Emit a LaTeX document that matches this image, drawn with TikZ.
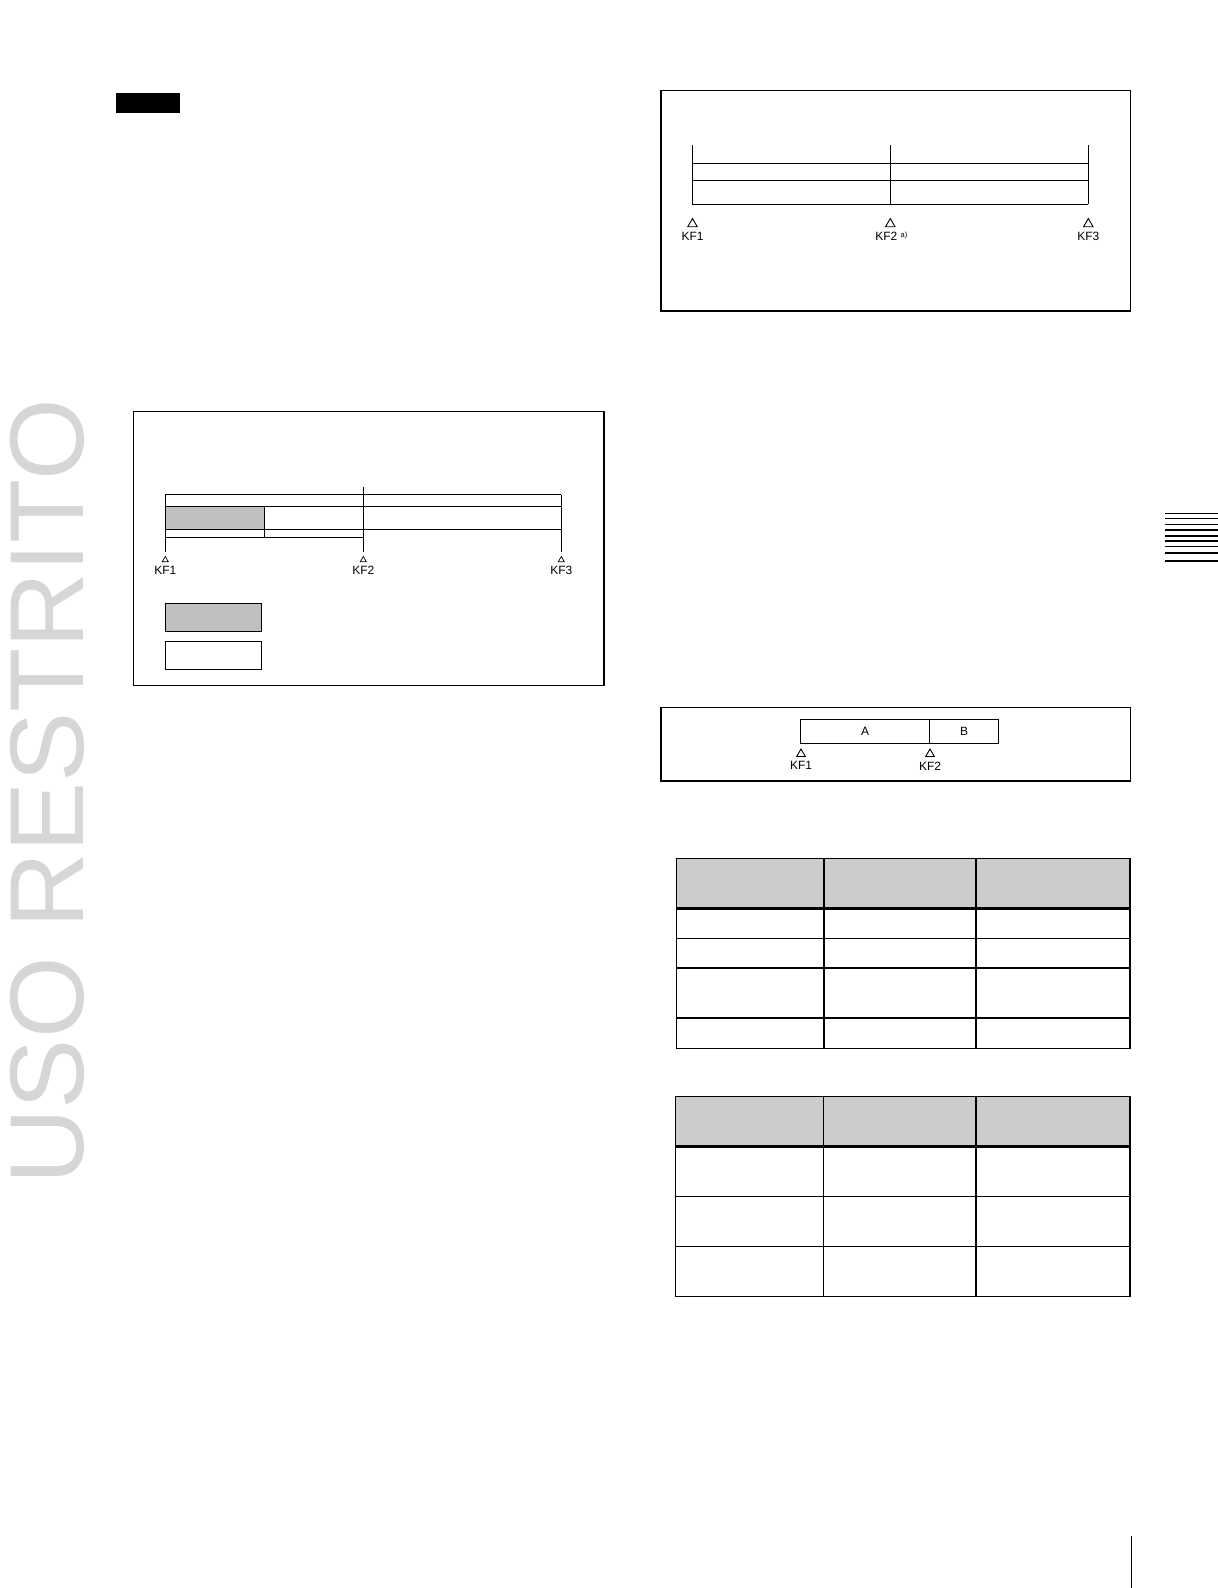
\documentclass[tikz,border=0pt]{standalone}
\usepackage{fontspec}
\setmainfont{Liberation Sans}
\usetikzlibrary{shapes.geometric, positioning}
\definecolor{wmgray}{HTML}{D6D6D6}
\definecolor{hdgray}{HTML}{CCCCCC}
\definecolor{bargray}{HTML}{BFBFBF}
\tikzset{
    frame/.style={draw, line width=1.4pt},
    tline/.style={line width=1pt},
    kfmark/.style={draw, regular polygon, regular polygon sides=3, inner sep=0pt, line width=0.9pt, minimum size=11pt},
    kfsmall/.style={kfmark, minimum size=7pt, line width=0.7pt},
    kflabel/.style={font=\fontsize{12}{14}\selectfont, inner sep=0pt},
    tabthin/.style={line width=1.5pt},
    tabthick/.style={line width=2.8pt}
}

\begin{document}
\begin{tikzpicture}[x=1pt, y=-1pt]
                        \useasboundingbox (0, 0) rectangle (1218, 1588);
                        \node[rotate=90, text=wmgray, inner sep=0pt, font=\fontsize{105}{105}\selectfont] (wm) at (47, 792) {USO RESTRITO};
                        \fill (116, 93) rectangle (180, 113);
                        \draw[frame] (661, 90.3) rectangle (1130.7, 311);
                        \draw[tline]
                        (692.3, 145) -- (692.3, 204.3)
                        (890.3, 145) -- (890.3, 204.3)
                        (1088.3, 145) -- (1088.3, 204.3)
                        (692.3, 163.3) -- (1088.3, 163.3)
                        (692.3, 180) -- (1088.3, 180)
                        (692.3, 204.3) -- (1088.3, 204.3);
                        \node[kfmark] (ta1) at (692.5, 224) {};
                        \node[kfmark] (ta2) at (890.3, 224) {};
                        \node[kfmark] (ta3) at (1088.3, 224) {};
                        \node[kflabel, below=5pt of ta1] (la1) {KF1};
                        \node[kflabel, below=5pt of ta2, xshift=-4pt] (la2) {KF2};
                        \node[kflabel, right=3pt of la2.north east, anchor=north west, font=\fontsize{7.5}{8}\selectfont] (sa2) {a)};
                        \node[kflabel, below=5pt of ta3] (la3) {KF3};
                        \draw[frame] (133.3, 411.7) rectangle (604, 685.7);
                        \fill[bargray] (165.3, 506.3) rectangle (264.3, 529.3);
                        \draw[tline]
                        (165.3, 494.7) -- (561.3, 494.7)
                        (165.3, 506.3) -- (561.3, 506.3)
                        (165.3, 529.3) -- (561.3, 529.3)
                        (165.3, 537) -- (363.3, 537)
                        (264.3, 506.3) -- (264.3, 537)
                        (165.3, 494.7) -- (165.3, 551.7)
                        (363.3, 487.3) -- (363.3, 551.7)
                        (561.3, 494.7) -- (561.3, 551.7);
                        \node[kfsmall] (tb1) at (165.3, 560) {};
                        \node[kfsmall] (tb2) at (363.3, 560) {};
                        \node[kfsmall] (tb3) at (561.3, 560) {};
                        \node[kflabel, below=4pt of tb1] (lb1) {KF1};
                        \node[kflabel, below=4pt of tb2] (lb2) {KF2};
                        \node[kflabel, below=4pt of tb3] (lb3) {KF3};
                        \draw[tline, fill=bargray] (165.3, 603) rectangle (261.7, 631.3);
                        \draw[tline] (165.3, 641) rectangle (261.7, 669.3);
                        \draw[frame] (661, 707.3) rectangle (1130.7, 781);
                        \draw[tline] (800.7, 719.3) rectangle (998.3, 743.3);
                        \draw[tline] (929.3, 719.3) -- (929.3, 743.3);
                        \node[kflabel] (ba) at (865, 731.5) {A};
                        \node[kflabel] (bb) at (964, 731.5) {B};
                        \node[kfmark, minimum size=10pt] (tc1) at (801, 754) {};
                        \node[kfmark, minimum size=10pt] (tc2) at (930, 754) {};
                        \node[kflabel, below=4.5pt of tc1] (lc1) {KF1};
                        \node[kflabel, below=4.5pt of tc2] (lc2) {KF2};
                        \fill[hdgray] (676.7, 858.3) rectangle (1130, 908.7);
                        \foreach \y in {938.3, 968, 1018}
                            \draw[tabthin] (676.7, \y) -- (1130, \y);
                        \draw[tabthin] (976, 858.3) -- (976, 1048.3);
                        \draw[tabthin] (676.7, 858.3) rectangle (1130, 1048.3);
                        \draw[tabthick] (824, 858.3) -- (824, 1048.3);
                        \draw[tabthick] (676.7, 908.7) -- (1130, 908.7);
                        \draw[tabthick] (1130, 858.3) -- (1130, 1048.3);
                        \fill[hdgray] (675.7, 1096.7) rectangle (1130, 1146.7);
                        \foreach \y in {1196.3, 1246.3}
                            \draw[tabthin] (675.7, \y) -- (1130, \y);
                        \draw[tabthin] (823.3, 1096.7) -- (823.3, 1296.7);
                        \draw[tabthin] (976, 1096.7) -- (976, 1296.7);
                        \draw[tabthin] (675.7, 1096.7) rectangle (1130, 1296.7);
                        \draw[tabthick] (675.7, 1146.7) -- (1130, 1146.7);
                        \draw[tabthick] (1130, 1096.7) -- (1130, 1296.7);
                        \foreach \y in {513.3, 518.3, 524.3, 530, 541, 546.7, 561}
                            \draw[line width=1.2pt] (1165, \y) -- (1218, \y);
                        \foreach \y in {535.7, 552.7}
                            \draw[line width=2.4pt] (1165, \y) -- (1218, \y);
                        \draw[line width=1.3pt] (1131.7, 1536) -- (1131.7, 1588);
                    \end{tikzpicture}
\end{document}
